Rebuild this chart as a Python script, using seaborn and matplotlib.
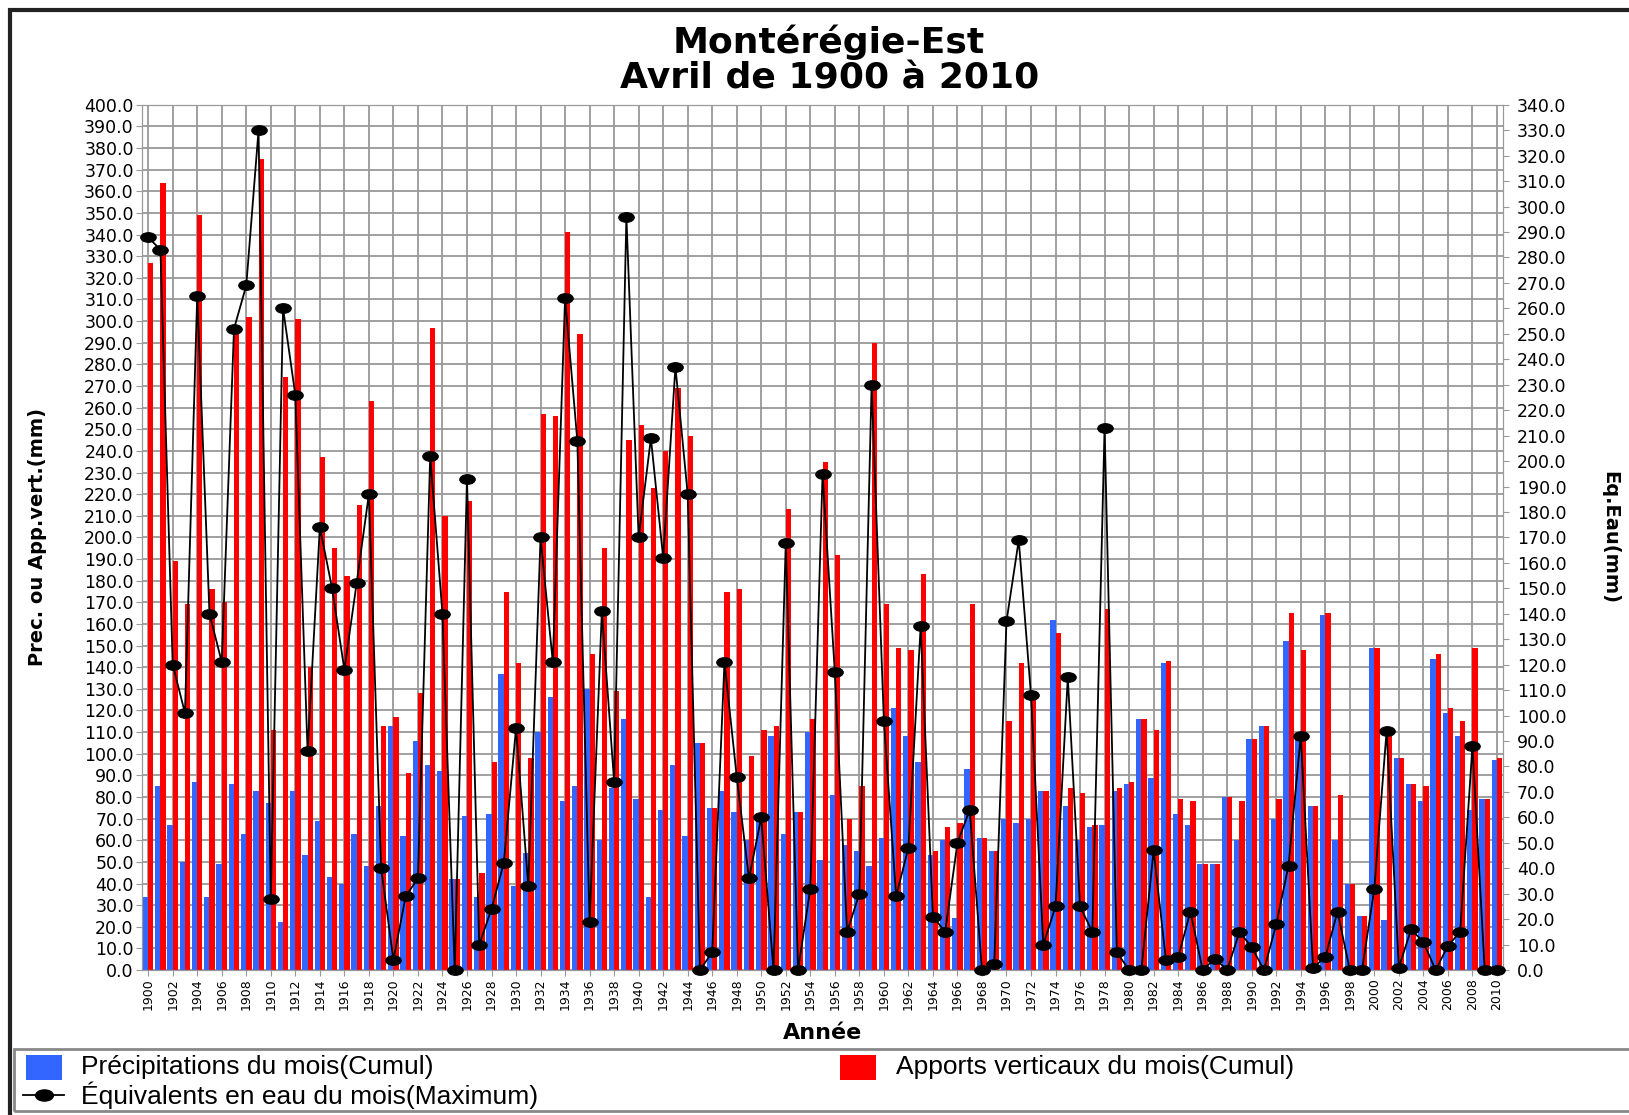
import numpy as np
import pandas as pd
import matplotlib
matplotlib.use('Agg')
import matplotlib.pyplot as plt
import seaborn as sns
from matplotlib.markers import MarkerStyle
from matplotlib.transforms import Affine2D
from matplotlib.patches import Rectangle
from matplotlib.lines import Line2D

# Données : avril de 1900 à 2010
annees = list(range(1900, 2011))

# Précipitations du mois (cumul, mm) - axe gauche
precipitations = [
    34, 85, 67, 50, 87, 34, 49, 86, 63, 83,
    77, 22, 83, 53, 69, 43, 40, 63, 48, 76,
    113, 62, 106, 95, 92, 42, 71, 34, 72, 137,
    39, 54, 110, 126, 78, 85, 130, 60, 84, 116,
    79, 34, 74, 95, 62, 105, 75, 83, 73, 60,
    69, 108, 63, 73, 110, 51, 81, 58, 55, 48,
    61, 121, 108, 96, 53, 60, 24, 93, 61, 55,
    70, 68, 70, 83, 162, 76, 60, 66, 67, 83,
    86, 116, 89, 142, 72, 67, 49, 49, 80, 60,
    107, 113, 70, 152, 108, 76, 164, 60, 40, 25,
    149, 23, 98, 86, 78, 144, 119, 108, 74, 79,
    97,
]

# Apports verticaux du mois (cumul, mm) - axe gauche
apports = [
    327, 364, 189, 169, 349, 176, 170, 295, 302, 375,
    111, 274, 301, 140, 237, 195, 182, 215, 263, 113,
    117, 91, 128, 297, 210, 42, 217, 45, 96, 175,
    142, 98, 257, 256, 341, 294, 146, 195, 129, 245,
    252, 223, 240, 269, 247, 105, 75, 175, 176, 99,
    111, 113, 213, 73, 116, 235, 192, 70, 85, 290,
    169, 149, 148, 183, 55, 66, 68, 169, 61, 55,
    115, 142, 127, 83, 156, 84, 82, 67, 167, 84,
    87, 116, 111, 143, 79, 78, 49, 49, 80, 78,
    107, 113, 79, 165, 148, 76, 165, 81, 40, 25,
    149, 108, 98, 86, 85, 146, 121, 115, 149, 79,
    98,
]

# Équivalents en eau du mois (maximum, mm) - axe droit
equivalents = [
    288, 283, 120, 101, 265, 140, 121, 252, 269, 330,
    28, 260, 226, 86, 174, 150, 118, 152, 187, 40,
    4, 29, 36, 202, 140, 0, 193, 10, 24, 42,
    95, 33, 170, 121, 264, 208, 19, 141, 74, 296,
    170, 209, 162, 237, 187, 0, 7, 121, 76, 36,
    60, 0, 168, 0, 32, 195, 117, 15, 30, 230,
    98, 29, 48, 135, 21, 15, 50, 63, 0, 2.5,
    137, 169, 108, 10, 25, 115, 25, 15, 213, 7,
    0, 0, 47, 4, 5, 23, 0, 4.5, 0, 15,
    9, 0, 18, 41, 92, 1, 5, 23, 0, 0,
    32, 94, 1, 16, 11, 0, 9.5, 15, 88, 0,
    0,
]

SERIE_P = 'Précipitations du mois(Cumul)'
SERIE_A = 'Apports verticaux du mois(Cumul)'
SERIE_E = 'Équivalents en eau du mois(Maximum)'
BLEU = '#3366FF'
ROUGE = '#FF0000'
GRIS = '#999999'

df = pd.DataFrame({
    'Annee': annees * 2,
    'Valeur': precipitations + apports,
    'Serie': [SERIE_P] * len(annees) + [SERIE_A] * len(annees),
})

W, H = 1629, 1115
fig = plt.figure(figsize=(W / 100, H / 100), dpi=100)
ax = fig.add_axes([0.0872, 0.130, 0.8355, 0.776])

sns.barplot(data=df, x='Annee', y='Valeur', hue='Serie', hue_order=[SERIE_P, SERIE_A],
            palette=[BLEU, ROUGE], width=0.86, saturation=1, linewidth=0,
            errorbar=None, legend=False, ax=ax, zorder=2)

n = len(annees)
ax.set_xlim(-0.5, n - 0.5)
ax.set_ylim(0, 400)
ax.set_yticks(np.arange(0, 401, 10))
ax.set_yticklabels([f'{v:.1f}' for v in np.arange(0, 401, 10)], fontsize=12.5)
ax.set_xticks(range(0, n, 2))
ax.set_xticklabels([str(annees[i]) for i in range(0, n, 2)], rotation=90, fontsize=9)
ax.grid(True, color=GRIS, linewidth=1.3)
ax.set_axisbelow(True)
ax.set_xlabel('Année', fontsize=16, fontweight='bold', labelpad=9)
ax.set_ylabel('Prec. ou App.vert.(mm)', fontsize=14, fontweight='bold')
ax.yaxis.set_label_coords(-0.070, 0.5)
for s in ax.spines.values():
    s.set_color(GRIS)
ax.tick_params(axis='both', color=GRIS, length=4, pad=2)

# Ligne des équivalents en eau sur l'axe de droite
ellipse = MarkerStyle('o', transform=Affine2D().scale(1.6, 1.0))
ax2 = ax.twinx()
sns.lineplot(x=np.arange(n), y=equivalents, ax=ax2, color='black', linewidth=1.3,
             marker=ellipse, markersize=7, markeredgecolor='black',
             markerfacecolor='black', clip_on=False, zorder=5)
ax2.set_xlim(-0.5, n - 0.5)
ax2.set_ylim(0, 340)
ax2.set_yticks(np.arange(0, 341, 10))
ax2.set_yticklabels([f'{v:.1f}' for v in np.arange(0, 341, 10)], fontsize=12.5)
ax2.set_ylabel('Eq.Eau(mm)', fontsize=14, fontweight='bold', rotation=270, va='center')
ax2.yaxis.set_label_coords(1.0785, 0.5)
for s in ax2.spines.values():
    s.set_color(GRIS)
ax2.tick_params(axis='y', color=GRIS, length=4, pad=6)

# Titre
fig.text(0.509, 0.962, 'Montérégie-Est', ha='center', va='center', fontsize=26, fontweight='bold')
fig.text(0.509, 0.930, 'Avril de 1900 à 2010', ha='center', va='center', fontsize=26, fontweight='bold')

# Légende (dessinée à la main pour placer les colonnes comme l'original)
def fx(px):
    return px / W

def fy(py):
    return 1 - py / H

police = {'family': 'Liberation Sans', 'size': 19}
fig.patches.append(Rectangle((fx(14), fy(1111)), 1.2, (1111 - 1049) / H, transform=fig.transFigure,
                             fill=False, linewidth=2, edgecolor='#888888'))
fig.patches.append(Rectangle((fx(26), fy(1080)), fx(36), 25 / H, transform=fig.transFigure,
                             facecolor=BLEU, edgecolor='none'))
fig.text(fx(81), fy(1067), SERIE_P, va='center', ha='left', fontdict=police)
fig.patches.append(Rectangle((fx(840), fy(1080)), fx(36), 25 / H, transform=fig.transFigure,
                             facecolor=ROUGE, edgecolor='none'))
fig.text(fx(896), fy(1067), SERIE_A, va='center', ha='left', fontdict=police)
fig.lines.append(Line2D([fx(23), fx(64)], [fy(1095), fy(1095)], transform=fig.transFigure,
                        color='black', linewidth=1.3))
fig.lines.append(Line2D([fx(44)], [fy(1095)], transform=fig.transFigure, color='black',
                        marker=ellipse, markersize=8, linestyle='none'))
fig.text(fx(81), fy(1095), SERIE_E, va='center', ha='left', fontdict=police)

# Cadre extérieur
fig.patches.append(Rectangle((0.0064, -0.1), 1.2, 0.9907 + 0.1, transform=fig.transFigure,
                             fill=False, linewidth=3, edgecolor='#222222'))

fig.savefig('out.png', dpi=100, facecolor='white')
